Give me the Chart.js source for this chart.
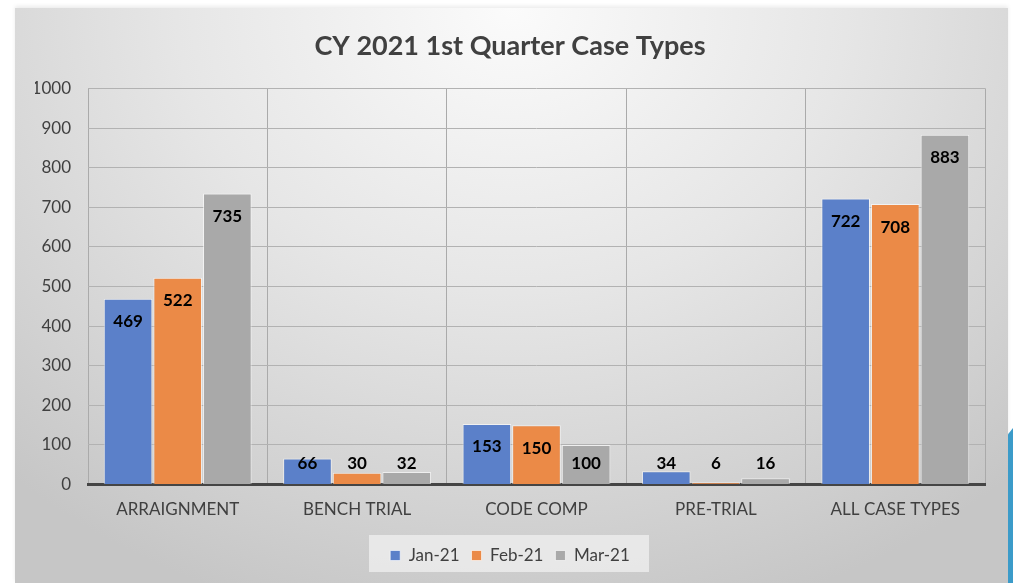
<!DOCTYPE html>
<html>
<head>
<meta charset="utf-8">
<script src="https://cdn.jsdelivr.net/npm/chart.js@4"></script>
<style>
  html, body { margin: 0; padding: 0; background: #fff; width: 1013px; height: 583px; overflow: hidden; }
  #card {
    position: absolute; left: 15px; top: 8px; width: 993px; height: 575px;
    background: radial-gradient(ellipse 75% 110% at 50% 0%, #fbfbfb 0%, #e6e6e6 45%, #d2d2d2 80%, #c6c6c6 100%);
    box-shadow: 0 -2px 4px rgba(0,0,0,0.08);
  }
  #edge {
    position: absolute; left: 1008px; top: 428px; width: 5px; height: 155px;
    background: #3b9bc9;
    clip-path: polygon(100% 0, 100% 100%, 0 100%, 0 4%);
  }
</style>
</head>
<body>
<div id="card"><canvas id="caseChart" width="993" height="575"></canvas></div>
<div id="edge"></div>
<script>
// chart data
const categories = ['ARRAIGNMENT', 'BENCH TRIAL', 'CODE COMP', 'PRE-TRIAL', 'ALL CASE TYPES'];
const jan21 = [469, 66, 153, 34, 722];
const feb21 = [522, 30, 150, 6, 708];
const mar21 = [735, 32, 100, 16, 883];
const yTicks = [0, 100, 200, 300, 400, 500, 600, 700, 800, 900, 1000];

const FONT = 'Lato, "Open Sans", sans-serif';

// value labels inside the top of each bar
const barLabels = {
    id: 'barLabels',
    afterDatasetsDraw(chart) {
        const ctx = chart.ctx;
        const zeroY = chart.scales.y.getPixelForValue(0);
        ctx.save();
        ctx.font = 'bold 17px ' + FONT;
        ctx.fillStyle = '#000';
        ctx.textAlign = 'center';
        ctx.textBaseline = 'middle';
        chart.data.datasets.forEach((ds, i) => {
            chart.getDatasetMeta(i).data.forEach((bar, j) => {
                const y = Math.min(bar.y + 23, zeroY - 21);
                ctx.fillText(ds.data[j], bar.x, y);
            });
        });
        ctx.restore();
    }
};

// lighter box behind the legend
const legendBox = {
    id: 'legendBox',
    beforeDraw(chart) {
        const lg = chart.legend;
        if (!lg) return;
        const ctx = chart.ctx;
        ctx.save();
        ctx.fillStyle = 'rgba(240,240,240,0.75)';
        const w = 280, h = 37;
        ctx.fillRect(lg.left + lg.width / 2 - w / 2 - 1, lg.top + lg.height / 2 - h / 2 - 1, w, h);
        ctx.restore();
    }
};

const ctx = document.getElementById('caseChart').getContext('2d');
new Chart(ctx, {
    type: 'bar',
    data: {
        labels: categories,
        datasets: [
            { label: 'Jan-21', data: jan21, backgroundColor: '#5b80c9', borderColor: 'rgba(255,255,255,0.6)', borderWidth: 1 },
            { label: 'Feb-21', data: feb21, backgroundColor: '#eb8a47', borderColor: 'rgba(255,255,255,0.6)', borderWidth: 1 },
            { label: 'Mar-21', data: mar21, backgroundColor: '#a9a9a9', borderColor: 'rgba(255,255,255,0.6)', borderWidth: 1 }
        ]
    },
    options: {
        responsive: false,
        animation: false,
        layout: { padding: { left: 20, right: 23, top: 0, bottom: 9 } },
        categoryPercentage: 0.83,
        barPercentage: 0.98,
        plugins: {
            title: {
                display: true,
                text: 'CY 2021 1st Quarter Case Types',
                color: '#404040',
                font: { family: FONT, size: 27, weight: 'bold' },
                padding: { top: 22, bottom: 26 }
            },
            legend: {
                position: 'bottom',
                labels: {
                    color: '#404040',
                    font: { family: FONT, size: 17 },
                    boxWidth: 10,
                    boxHeight: 10,
                    padding: 12
                }
            },
            tooltip: { enabled: false }
        },
        scales: {
            x: {
                grid: { color: '#aaaaaa', lineWidth: 1, offset: true, drawTicks: false },
                border: { color: '#454545', width: 3 },
                ticks: { color: '#404040', font: { family: FONT, size: 17 }, padding: 15 }
            },
            y: {
                min: 0,
                max: 1000,
                afterFit(scale) { scale.width = 53; },
                afterBuildTicks(scale) { scale.ticks = yTicks.map(v => ({ value: v })); },
                grid: { color: '#b2b2b2', lineWidth: 1, drawTicks: false },
                border: { display: false },
                ticks: {
                    color: '#404040',
                    font: { family: FONT, size: 17 },
                    padding: 17,
                    callback: v => String(v)
                }
            }
        }
    },
    plugins: [legendBox, barLabels]
});
</script>
</body>
</html>
